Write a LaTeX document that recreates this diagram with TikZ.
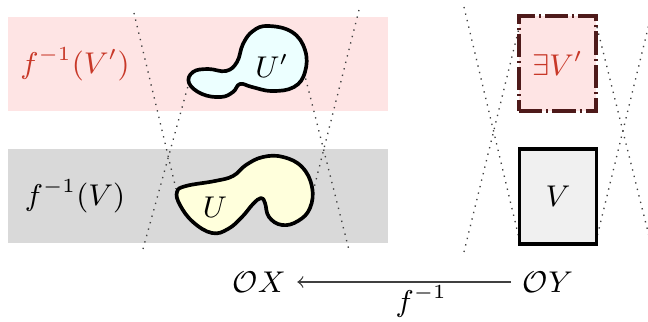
\documentclass[tikz,border=0pt]{standalone}
\definecolor{pinkfill}{RGB}{254,228,228}
\definecolor{bandgray}{RGB}{217,217,217}
\definecolor{boxgray}{RGB}{240,240,240}
\definecolor{textred}{RGB}{200,56,40}
\definecolor{brownedge}{RGB}{78,26,26}
\definecolor{cyanfill}{RGB}{236,255,255}
\definecolor{yellowfill}{RGB}{255,255,220}
\begin{document}
\begin{tikzpicture}[x=0.3pt,y=-0.3pt,font=\fontsize{9}{11}\selectfont,
  band/.style={draw=none,minimum width=114pt,minimum height=28.2pt,inner sep=0pt},
  setbox/.style={minimum width=23.1pt,minimum height=28.5pt,inner sep=0pt,line width=1.1pt},
  blob/.style={line width=1.1pt,line join=round},
  cone/.style={line width=0.4pt,black!75,dash pattern=on 0.4pt off 1.6pt},
]
\useasboundingbox (0,0) rectangle (648,322);
% bands
\node[band,fill=pinkfill] (topband) at (198,64) {};
\node[band,fill=bandgray] (botband) at (198,196.5) {};
\node[text=textred] (lVp) at (75,64) {$f^{-1}(V')$};
\node (lV) at (75,196) {$f^{-1}(V)$};
% cone lines
\coordinate (a1) at (134,13);  \coordinate (a2) at (176,189);
\coordinate (b1) at (143,249); \coordinate (b2) at (188,86);
\coordinate (c1) at (359,10);  \coordinate (c2) at (313,192);
\coordinate (d1) at (304,72);  \coordinate (d2) at (349,250);
\coordinate (e1) at (464,7);   \coordinate (e2) at (519,238);
\coordinate (f1) at (464,252); \coordinate (f2) at (519,28);
\coordinate (g1) at (597,27);  \coordinate (g2) at (650,240);
\coordinate (h1) at (650,20);  \coordinate (h2) at (597,237);
\foreach \p in {a,b,c,d,e,f,g,h} \draw[cone] (\p1) -- (\p2);
% blobs
\draw[blob,fill=cyanfill] plot[smooth cycle,tension=0.7] coordinates {
 (268,26) (292,32) (305,50) (305,72) (294,87) (272,91) (252,87) (240,84)
 (233,92) (221,97) (202,94) (189,83) (193,72) (208,69) (226,71) (237,62)
 (243,44) (253,31)};
\node (Up) at (272,66) {$U'$};
\draw[blob,fill=yellowfill] plot[smooth cycle,tension=0.7] coordinates {
 (177,192) (186,186) (215,181) (233,176) (246,165) (263,157) (283,157)
 (302,167) (312,187) (310,208) (298,221) (282,225) (269,217) (265,203)
 (261,198) (253,204) (242,217) (228,229) (212,233) (193,222) (180,205)};
\node (U) at (215,207) {$U$};
% boxes
\node[setbox,draw=brownedge,fill=pinkfill,dash pattern=on 7pt off 1.2pt on 0.6pt off 1.2pt] (Vp) at (557.5,63.5) {\textcolor{textred}{$\exists V'$}};
\node[setbox,draw=black,fill=boxgray] (V) at (558,196.5) {$V$};
% bottom
\node (OX) at (259,282) {$\mathcal{O}X$};
\node (OY) at (548,282) {$\mathcal{O}Y$};
\draw[->,black!75,line width=0.4pt] (OY) -- node[pos=0.42,below,inner sep=1pt,text=black] {$f^{-1}$} (OX);
\end{tikzpicture}
\end{document}
